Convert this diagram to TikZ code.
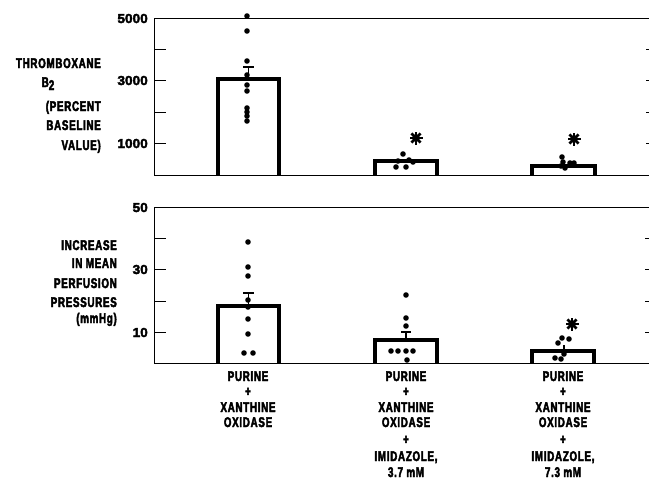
\documentclass[tikz,border=0pt]{standalone}
\usepackage{fontspec}
\newfontfamily\lab[FakeStretch=0.70,FakeBold=3,LetterSpace=5]{Liberation Sans}
\newfontfamily\numf[FakeStretch=1.05,FakeBold=3]{Liberation Sans}
\begin{document}
\begin{tikzpicture}[x=1pt,y=-1pt,
  frame/.style={line width=1pt},
  tk/.style={line width=1pt},
  barbox/.style={line width=3.4pt,fill=white},
  err/.style={line width=1.4pt},
  dot/.style={circle,fill=black,inner sep=0pt,minimum size=5.6pt},
  ticklab/.style={anchor=base east,inner sep=0pt,font=\numf\bfseries\fontsize{13}{14}\selectfont},
  ylab/.style={anchor=base east,inner sep=0pt,font=\lab\bfseries\fontsize{14}{16}\selectfont},
  xlab/.style={anchor=base,inner sep=0pt,font=\lab\bfseries\fontsize{14}{16}\selectfont}]
\useasboundingbox (0,0) rectangle (649,483);
\newcommand{\astk}[2]{%
  \foreach \a in {0,45,90,135}{\draw[line width=2.6pt] ([shift={(\a:6.5)}]#1,#2) -- ([shift={(\a+180:6.5)}]#1,#2);}
  \fill (#1,#2) circle (3.8);}
% ---------- top panel ----------
\draw[frame] (649,18) -- (154,18) -- (154,175) -- (649,175);
\foreach \y in {49,80,112,143}{\draw[tk] (154,\y) -- (166,\y); \draw[tk] (649,\y) -- (646,\y);}
\node[ticklab] (t5000) at (148,23) {5000};
\node[ticklab] (t3000) at (148,85) {3000};
\node[ticklab] (t1000) at (148,148) {1000};
\node[ylab] (ya1) at (101,68) {THROMBOXANE};
\node[ylab,anchor=base] (ya2) at (48,87) {B\raisebox{-3pt}{2}};
\node[ylab] (ya3) at (101,111) {(PERCENT};
\node[ylab] (ya4) at (101,130) {BASELINE};
\node[ylab] (ya5) at (101,150) {VALUE)};
% bar 1
\draw[barbox] (218,175) -- (218,79) -- (279,79) -- (279,175);
\draw[err] (248.5,79) -- (248.5,67); \draw[err] (243,67) -- (254,67);
\foreach \y in {16,31,61,75,85,91,108,112,116,121}{\node[dot] at (247,\y) {};}
% bar 2
\draw[barbox] (375,175) -- (375,161) -- (437,161) -- (437,175);
\foreach \p in {(403,154),(398,161),(409,160),(396,167),(406,167),(413,162)}{\node[dot] at \p {};}
\astk{416}{138}
% bar 3
\draw[barbox] (532,175) -- (532,166) -- (595,166) -- (595,175);
\foreach \p in {(562,157),(563,162),(570,163),(574,163),(565,168),(561,166)}{\node[dot] at \p {};}
\astk{574}{139}
% ---------- bottom panel ----------
\draw[frame] (649,207) -- (154,207) -- (154,363) -- (649,363);
\foreach \y in {238,269,301,332}{\draw[tk] (154,\y) -- (166,\y); \draw[tk] (649,\y) -- (645,\y);}
\node[ticklab] (b50) at (148,212) {50};
\node[ticklab] (b30) at (148,274) {30};
\node[ticklab] (b10) at (148,337) {10};
\node[ylab] (yb1) at (117,250) {INCREASE};
\node[ylab] (yb2) at (117,268) {IN MEAN};
\node[ylab] (yb3) at (117,288) {PERFUSION};
\node[ylab] (yb4) at (117,307) {PRESSURES};
\node[ylab] (yb5) at (117,323) {(mmHg)};
% bar 1
\draw[barbox] (218,363) -- (218,306) -- (279,306) -- (279,363);
\draw[err] (248.5,306) -- (248.5,293); \draw[err] (243,293) -- (254,293);
\foreach \p in {(248,242),(248,267),(248,276),(248,300),(248,307),(248,319),(248,334),(244,353),(253,353)}{\node[dot] at \p {};}
% bar 2
\draw[barbox] (375,363) -- (375,340) -- (437,340) -- (437,363);
\draw[err] (406,340) -- (406,332); \draw[err] (401,332) -- (411,332);
\foreach \p in {(406,295),(406,318),(406,326),(391,351),(398,351),(406,351),(413,351),(407,360)}{\node[dot] at \p {};}
% bar 3
\draw[barbox] (532,363) -- (532,351) -- (594,351) -- (594,363);
\draw[err] (564,351) -- (564,345);
\foreach \p in {(562,338),(569,339),(558,343),(564,354),(555,358),(561,359)}{\node[dot] at \p {};}
\astk{572}{324}
% ---------- x labels ----------
\foreach \lbl/\t/\y in {1/PURINE/381,2/+/396,3/XANTHINE/412,4/OXIDASE/427}{
  \node[xlab] (xa\lbl) at (248,\y) {\t};}
\foreach \lbl/\t/\y in {1/PURINE/381,2/+/396,3/XANTHINE/412,4/OXIDASE/427,5/+/444,6/{IMIDAZOLE,}/461,7/3.7 mM/477}{
  \node[xlab] (xb\lbl) at (406,\y) {\t};}
\foreach \lbl/\t/\y in {1/PURINE/381,2/+/396,3/XANTHINE/412,4/OXIDASE/427,5/+/444,6/{IMIDAZOLE,}/461,7/7.3 mM/477}{
  \node[xlab] (xc\lbl) at (563,\y) {\t};}
\end{tikzpicture}
\end{document}
